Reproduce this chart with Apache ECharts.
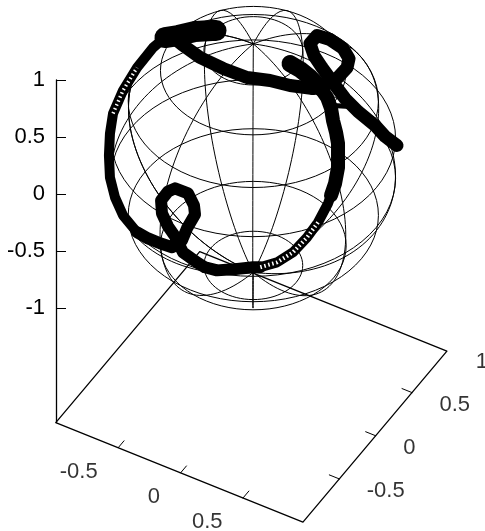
<!DOCTYPE html>
<html><head><meta charset="utf-8">
<style>html,body{margin:0;padding:0;background:#fff}#c{width:485px;height:531px}</style>
<script src="https://cdn.jsdelivr.net/npm/echarts@6/dist/echarts.min.js"></script>
</head><body><div id="c"></div>
<script>
// tick values
const zTicks = [-1, -0.5, 0, 0.5, 1];
const xTicks = [-0.5, 0, 0.5];
const yTicks = [-0.5, 0, 0.5];
const yLabels = [-0.5, 0, 0.5, 1];
const xEnds = [-1, 0.98];
const yEnds = [-1, 0.98];
const zFloor = -2;
// sphere wireframe isolines, degrees
const longitudes = [-180, -140, -100, -60, -20, 20, 60, 100, 140, 180];
const latitudes = [-70, -50, -30, -10, 10, 30, 50, 70];
// traced curve in projected (horizontal, vertical) plot units
const arcRightU = [.321,.409,.496,.584,.645,.680,.697,.724,.741,.741,.741,.715,.680];
const arcRightV = [1.144,1.092,1.022,.934,.847,.751,.646,.541,.444,.296,.234,.094,-.010];
const arcLowerU = [.680,.654,.566,.470,.347,.207,.059];
const arcLowerV = [-.010,-.080,-.247,-.378,-.509,-.597,-.640];
const bottomLoopU = [.059,-.003,-.178,-.318,-.423,-.493,-.615,-.685,-.746,-.799,-.807,-.746,-.685,-.571,-.519,-.510,-.580,-.624,-.711,-.816,-.921,-1.017];
const bottomLoopV = [-.640,-.640,-.658,-.667,-.640,-.597,-.509,-.369,-.282,-.168,-.054,.024,.051,.007,-.098,-.177,-.299,-.404,-.465,-.430,-.387,-.334];
const arcLeftU = [-1.017,-1.140,-1.210,-1.254,-1.263,-1.254,-1.227,-1.140,-1.017,-.877,-.773];
const arcLeftV = [-.334,-.185,-.028,.147,.339,.532,.707,.908,1.109,1.284,1.372];
const blobTopU = [-.773,-.659,-.510,-.361,-.326];
const blobTopV = [1.372,1.389,1.424,1.433,1.433];
const strokeTopU = [-.711,-.624,-.466,-.265,-.055,.146,.321,.522];
const strokeTopV = [1.381,1.311,1.197,1.101,1.022,.996,.952,.926];
const loopRightU = [.522,.654,.741,.820,.837,.785,.671,.557,.496,.531,.601,.697,.802,.916,1.065,1.152,1.257];
const loopRightV = [.926,.969,1.022,1.109,1.188,1.276,1.354,1.389,1.319,1.214,1.109,.978,.838,.724,.602,.506,.427];
const crossStubU = [.697,.845];
const crossStubV = [.777,.768];

const FONT = '"Liberation Sans", Arial, sans-serif', FS = 22;
const proj = (x, y, z) => [1.092 * x + 0.636 * y, 0.316 - 0.440 * x + 0.756 * y + z];
const rad = Math.PI / 180;
const sph = (lon, lat) => proj(Math.cos(lat * rad) * Math.cos(lon * rad), Math.cos(lat * rad) * Math.sin(lon * rad), Math.sin(lat * rad));
const pair = (u, v) => u.map((a, i) => [a, v[i]]);
const line = (data, color, width, extra) => ({type: 'line', data, symbol: 'none', clip: false, silent: true, animation: false,
  lineStyle: Object.assign({color, width, cap: 'round', join: 'round'}, extra || {}), z: 3});

const series = [];
// wireframe
const WIRE = '#000', WW = 1;
const steps = 72;
longitudes.forEach(lon => {
  const d = [];
  for (let i = 0; i <= steps; i++) d.push(sph(lon, -90 + 180 * i / steps));
  series.push(Object.assign(line(d, WIRE, WW), {z: 2}));
});
latitudes.forEach(lat => {
  const d = [];
  for (let i = 0; i <= steps; i++) d.push(sph(-180 + 360 * i / steps, lat));
  series.push(Object.assign(line(d, WIRE, WW), {z: 2}));
});
// base frame
const [x0, x1] = xEnds, [y0, y1] = yEnds;
series.push(line([proj(x0,y0,zFloor), proj(x1,y0,zFloor), proj(x1,y1,zFloor), proj(x0,y1,zFloor), proj(x0,y0,zFloor)], '#000', 1.3));
xTicks.forEach(t => series.push(line([proj(t,y0,zFloor), proj(t,y0+0.08,zFloor)], '#000', 1)));
yTicks.forEach(t => series.push(line([proj(x1,t,zFloor), proj(x1-0.08,t,zFloor)], '#000', 1)));
// base labels
const txt = {color: '#000', fontFamily: FONT, fontSize: FS};
series.push({type: 'scatter', symbolSize: 1, itemStyle: {color: 'transparent'}, silent: true, animation: false, clip: false,
  data: xTicks.map(t => ({value: proj(t,y0,zFloor), name: String(t)})),
  label: Object.assign({show: true, position: 'left', distance: 20, offset: [0, 24], formatter: '{b}'}, txt)});
series.push({type: 'scatter', symbolSize: 1, itemStyle: {color: 'transparent'}, silent: true, animation: false, clip: false,
  data: yLabels.map(t => ({value: proj(x1,t,zFloor), name: String(t)})),
  label: Object.assign({show: true, position: 'right', distance: 27, offset: [0, 12.5], formatter: '{b}'}, txt)});
// curve
series.push(line(pair(arcRightU, arcRightV), '#000', 14));
series.push(line(pair(arcRightU, arcRightV).slice(0, 4), '#000', 17));
series.push(line(pair(arcLowerU, arcLowerV), '#000', 10));
series.push(line(pair(bottomLoopU, bottomLoopV), '#000', 12));
series.push(line(pair(arcLeftU, arcLeftV), '#000', 10));
series.push(line(pair(blobTopU, blobTopV), '#000', 21));
series.push(line(pair(strokeTopU, strokeTopV), '#000', 13));
series.push(line(pair(loopRightU, loopRightV), '#000', 13));
series.push(line(pair(crossStubU, crossStubV), '#000', 5));
// open centres of the sparse marker stretches
series.push(Object.assign(line(pair(arcLowerU, arcLowerV).slice(2, 7), '#fff', 4, {type: [1.5, 2.6], cap: 'butt'}), {z: 4}));
series.push(Object.assign(line(pair(arcLeftU, arcLeftV).slice(6, 9), '#fff', 3.5, {type: [1.5, 2.8], cap: 'butt'}), {z: 4}));

const chart = echarts.init(document.getElementById('c'), null, {renderer: 'canvas'});
chart.setOption({
  animation: false,
  backgroundColor: '#fff',
  grid: {left: 56, top: 80, width: 404, height: 342.6, containLabel: false},
  xAxis: {type: 'value', min: -1.726, max: 1.808, show: false, splitLine: {show: false}},
  yAxis: {type: 'value', min: zFloor, max: 1, position: 'left', splitLine: {show: false},
    axisLine: {show: true, onZero: false, lineStyle: {color: '#000', width: 1.3}},
    axisTick: {show: true, inside: true, length: 10, customValues: zTicks, lineStyle: {color: '#000', width: 1}},
    axisLabel: {show: true, margin: 11, customValues: zTicks, color: '#000', fontFamily: FONT, fontSize: FS, formatter: v => String(v)}},
  series
});
</script></body></html>
